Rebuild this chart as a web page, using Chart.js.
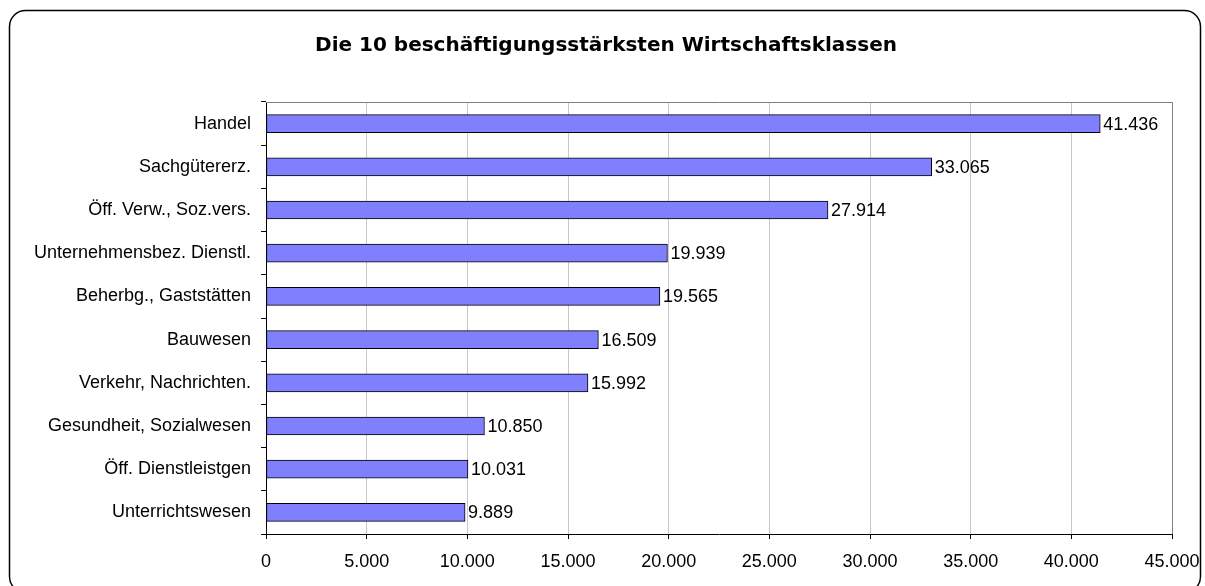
<!DOCTYPE html>
<html>
<head>
<meta charset="utf-8">
<script src="https://cdn.jsdelivr.net/npm/chart.js@4/dist/chart.umd.min.js"></script>
<style>
  html, body { margin: 0; padding: 0; background: #fff; }
  #wrap { width: 1205px; height: 586px; }
</style>
</head>
<body>
<div id="wrap"><canvas id="chart" width="1205" height="586"></canvas></div>
<script>
'use strict';

// ── Data ──────────────────────────────────────────────────
const categories = [
    'Handel', 'Sachgütererz.', 'Öff. Verw., Soz.vers.', 'Unternehmensbez. Dienstl.',
    'Beherbg., Gaststätten', 'Bauwesen', 'Verkehr, Nachrichten.',
    'Gesundheit, Sozialwesen', 'Öff. Dienstleistgen', 'Unterrichtswesen'
];
const employees = [41436, 33065, 27914, 19939, 19565, 16509, 15992, 10850, 10031, 9889];
const xTicks = [0, 5000, 10000, 15000, 20000, 25000, 30000, 35000, 40000, 45000];
const titleText = 'Die 10 beschäftigungsstärksten Wirtschaftsklassen';

const fmt = v => String(Math.round(v)).replace(/\B(?=(\d{3})+(?!\d))/g, '.');
const LABEL_FONT = '"Liberation Sans", Arial, sans-serif';

// ── Plugins ───────────────────────────────────────────────
const frame = {
    id: 'frame',
    beforeDraw(chart) {
        const { ctx } = chart;
        ctx.save();
        ctx.fillStyle = '#fff';
        ctx.fillRect(0, 0, chart.width, chart.height);
        ctx.beginPath();
        ctx.roundRect(9.5, 10.5, 1191, 582, 16);
        ctx.lineWidth = 1.5;
        ctx.strokeStyle = '#000';
        ctx.stroke();
        // title
        ctx.font = 'bold 20px "DejaVu Sans", sans-serif';
        ctx.fillStyle = '#000';
        ctx.textAlign = 'center';
        ctx.textBaseline = 'middle';
        ctx.fillText(titleText, 606, 46);
        ctx.restore();
    },
    beforeDatasetsDraw(chart) {
        const { ctx, chartArea: a } = chart;
        ctx.save();
        ctx.strokeStyle = '#808080';
        ctx.lineWidth = 1;
        ctx.beginPath();
        ctx.moveTo(a.left, a.top + 0.5);
        ctx.lineTo(a.right + 0.5, a.top + 0.5);
        ctx.lineTo(a.right + 0.5, a.bottom);
        ctx.stroke();
        ctx.restore();
    }
};

const valueLabels = {
    id: 'valueLabels',
    afterDatasetsDraw(chart) {
        const { ctx } = chart;
        const meta = chart.getDatasetMeta(0);
        ctx.save();
        ctx.font = '18px ' + LABEL_FONT;
        ctx.fillStyle = '#000';
        ctx.textAlign = 'left';
        ctx.textBaseline = 'middle';
        meta.data.forEach((bar, i) => {
            ctx.fillText(fmt(employees[i]), bar.x + 3, bar.y + 1);
        });
        ctx.restore();
    }
};

// ── Chart ─────────────────────────────────────────────────
new Chart(document.getElementById('chart').getContext('2d'), {
    type: 'bar',
    data: {
        labels: categories,
        datasets: [{
            data: employees,
            backgroundColor: '#8080ff',
            borderColor: '#000',
            borderWidth: 1,
            borderSkipped: false,
            barThickness: 18,
        }]
    },
    options: {
        indexAxis: 'y',
        responsive: false,
        animation: false,
        devicePixelRatio: 1,
        layout: { padding: { left: 0, right: 33, bottom: 0, top: 102 } },
        plugins: {
            legend: { display: false },
            tooltip: { enabled: false },
            title: { display: false }
        },
        scales: {
            x: {
                min: 0,
                max: 45000,
                afterBuildTicks: s => { s.ticks = xTicks.map(v => ({ value: v })); },
                afterFit: s => { s.height = 52; s.paddingLeft = 0; s.paddingRight = 0; },
                grid: { color: '#c8c8c8', tickColor: '#000', tickLength: 5 },
                border: { color: '#000', width: 1 },
                ticks: {
                    color: '#000',
                    padding: 12,
                    maxRotation: 0,
                    font: { family: LABEL_FONT, size: 18 },
                    callback: v => fmt(v)
                }
            },
            y: {
                afterFit: s => { s.width = 266; s.paddingTop = 0; s.paddingBottom = 0; },
                grid: { drawOnChartArea: false, offset: true, tickColor: '#000', tickLength: 5 },
                border: { color: '#000', width: 1 },
                ticks: {
                    color: '#000',
                    padding: 10,
                    font: { family: LABEL_FONT, size: 18 }
                }
            }
        }
    },
    plugins: [frame, valueLabels]
});
</script>
</body>
</html>
